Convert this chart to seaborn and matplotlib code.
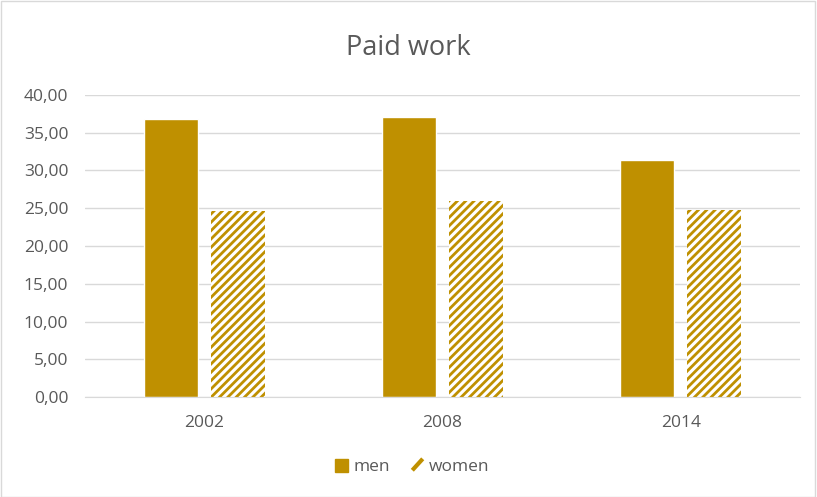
import matplotlib
matplotlib.use("Agg")
import matplotlib.pyplot as plt
import seaborn as sns
import pandas as pd
from matplotlib.patches import Patch
from matplotlib.lines import Line2D
from matplotlib.legend_handler import HandlerBase

# values
years = ["2002", "2008", "2014"]
men = [36.8, 37.1, 31.4]
women = [24.6, 25.9, 24.8]
series = ["men", "women"]

gold = "#BF9000"
grey_text = "#595959"

df = pd.DataFrame({
    "year": years * 2,
    "hours": men + women,
    "sex": ["men"] * len(years) + ["women"] * len(years),
})

sns.set_style("white")
plt.rcParams["font.family"] = ["Open Sans", "DejaVu Sans"]
plt.rcParams["hatch.linewidth"] = 2.0
plt.rcParams["hatch.color"] = gold

fig = plt.figure(figsize=(8.17, 4.97), dpi=100)
ax = fig.add_axes([85 / 817, 100 / 497, 715 / 817, 302 / 497])

sns.barplot(data=df, x="year", y="hours", hue="sex", hue_order=series,
            palette=[gold, gold], width=0.563, gap=0.194, saturation=1,
            ax=ax, legend=False)

# women bars get the striped fill
n = len(years)
for i, p in enumerate(ax.patches[:2 * n]):
    if i >= n:
        p.set_facecolor("white")
        p.set_edgecolor(gold)
        p.set_hatch("////")
        p.set_linewidth(0)

ax.set_ylim(0, 40)
ax.set_yticks(range(0, 41, 5))
ax.set_yticklabels([f"{v},00" for v in range(0, 41, 5)])
ax.yaxis.grid(True, color="#D9D9D9", linewidth=1)
ax.set_axisbelow(True)
for s in ["top", "right", "left"]:
    ax.spines[s].set_visible(False)
ax.spines["bottom"].set_color("#D9D9D9")
ax.tick_params(axis="both", length=0, colors=grey_text, labelsize=12.5)
ax.tick_params(axis="y", pad=12)
ax.tick_params(axis="x", pad=13)
ax.set_xlabel("")
ax.set_ylabel("")

fig.text(0.5, 1 - 48 / 497, "Paid work", ha="center", va="center",
         fontsize=19.5, color=grey_text)


class SlashHandler(HandlerBase):
    def create_artists(self, legend, orig_handle, xdescent, ydescent,
                       width, height, fontsize, trans):
        line = Line2D([xdescent + width * 0.1, xdescent + width * 0.9],
                      [ydescent + height * 0.05, ydescent + height * 0.95],
                      color=gold, linewidth=3, solid_capstyle="butt",
                      transform=trans)
        return [line]


men_h = Patch(facecolor=gold, edgecolor=gold, label="men")
women_h = Line2D([], [], color=gold, label="women")
fig.legend(handles=[men_h, women_h], handler_map={women_h: SlashHandler()},
           loc="center", bbox_to_anchor=(0.505, 1 - 467 / 497),
           ncol=2, frameon=False, fontsize=12.5, labelcolor=grey_text,
           handlelength=0.75, handleheight=0.75, handletextpad=0.3, columnspacing=1.2)

fig.patches.append(plt.Rectangle((0.001, 0.001), 0.997, 0.997, transform=fig.transFigure,
                                 fill=False, edgecolor="#D9D9D9", linewidth=1))

fig.savefig("out.png", dpi=100)
